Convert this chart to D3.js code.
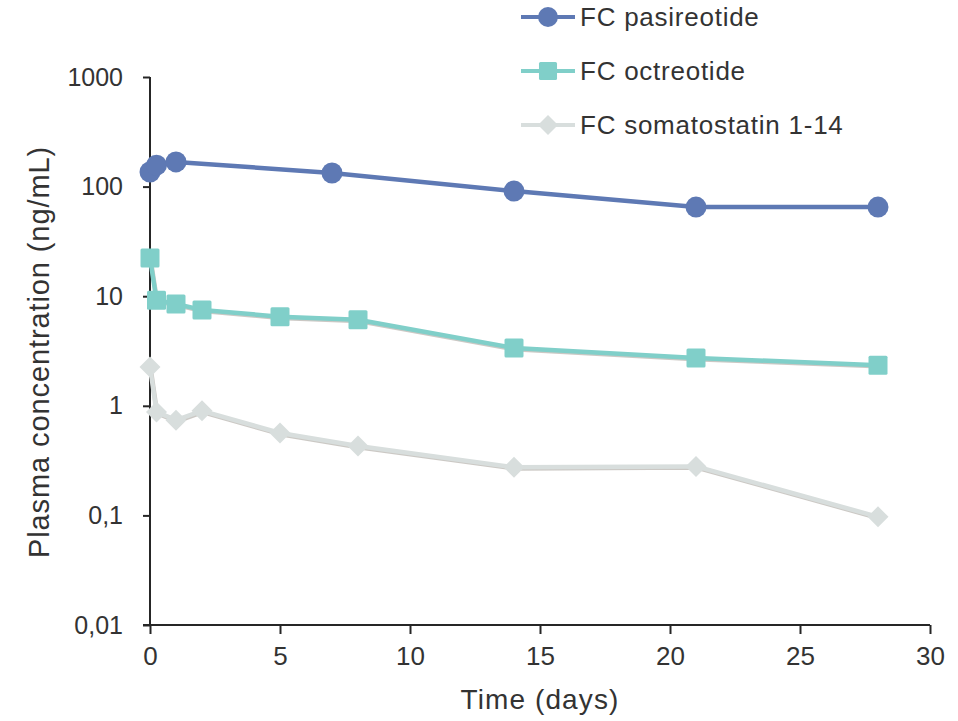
<!DOCTYPE html>
<html>
<head>
<meta charset="utf-8">
<script src="https://cdn.jsdelivr.net/npm/d3@7"></script>
<style>
  html, body { margin: 0; padding: 0; background: #fff; }
  svg { display: block; }
  text { font-family: "Liberation Sans", Arial, Helvetica, sans-serif; fill: #333; }
</style>
</head>
<body>
<svg id="chart" width="958" height="721"></svg>
<script>
// ---- Data ----
const pasireotideDays = [0, 0.25, 1, 7, 14, 21, 28];
const pasireotideValues = [136, 157, 168, 133, 91, 65, 65];

const octreotideDays = [0, 0.25, 1, 2, 5, 8, 14, 21, 28];
const octreotideValues = [22.3, 9.2, 8.5, 7.5, 6.5, 6.1, 3.37, 2.73, 2.35];

const somatostatinDays = [0, 0.25, 1, 2, 5, 8, 14, 21, 28];
const somatostatinValues = [2.26, 0.88, 0.74, 0.9, 0.565, 0.43, 0.275, 0.28, 0.097];

const seriesNames = ["FC pasireotide", "FC octreotide", "FC somatostatin 1-14"];
const xTicks = [0, 5, 10, 15, 20, 25, 30];
const yTicks = [0.01, 0.1, 1, 10, 100, 1000];
const yTickLabels = ["0,01", "0,1", "1", "10", "100", "1000"];
const xTitle = "Time (days)";
const yTitle = "Plasma concentration (ng/mL)";

// ---- Layout ----
const svg = d3.select("#chart");
const x = d3.scaleLinear().domain([0, 30]).range([150, 930]);
const y = d3.scaleLog().domain([0.01, 1000]).range([625, 77]);

const series = [
  { name: seriesNames[0], days: pasireotideDays, values: pasireotideValues, color: "#5e79b4", shape: "circle", shadow: false },
  { name: seriesNames[1], days: octreotideDays, values: octreotideValues, color: "#80cfc9", shape: "square", shadow: true },
  { name: seriesNames[2], days: somatostatinDays, values: somatostatinValues, color: "#d8dedd", shape: "diamond", shadow: true }
];

// ---- Axes ----
const axisColor = "#262626";
const yAxis = svg.append("g").attr("transform", "translate(150,0)")
  .call(d3.axisLeft(y).tickValues(yTicks).tickFormat((d, i) => yTickLabels[i]).tickSize(7).tickPadding(20));
yAxis.select(".domain").attr("stroke", axisColor).attr("stroke-width", 2).attr("d", "M0,77V625");
yAxis.selectAll(".tick line").attr("stroke", axisColor).attr("stroke-width", 2);
yAxis.selectAll(".tick text").style("font-size", "25px").attr("fill", "#333").attr("font-family", null);

const xAxis = svg.append("g").attr("transform", "translate(0,625)")
  .call(d3.axisBottom(x).tickValues(xTicks).tickFormat(d3.format("d")).tickSize(9).tickPadding(13));
xAxis.select(".domain").attr("stroke", axisColor).attr("stroke-width", 2).attr("d", "M143,0H930");
xAxis.selectAll(".tick line").attr("stroke", axisColor).attr("stroke-width", 2);
xAxis.selectAll(".tick text").style("font-size", "26px").attr("fill", "#333").attr("font-family", null);

// Axis titles
svg.append("text")
  .attr("transform", "translate(49,352) rotate(-90)")
  .attr("text-anchor", "middle")
  .style("font-size", "29px")
  .style("letter-spacing", "0.9px")
  .text(yTitle);

svg.append("text")
  .attr("x", 540).attr("y", 709)
  .attr("text-anchor", "middle")
  .style("font-size", "28px")
  .style("letter-spacing", "1.1px")
  .text(xTitle);

// ---- Markers ----
function drawMarker(g, shape, cx, cy, color, scale) {
  const s = scale || 1;
  if (shape === "circle") {
    g.append("circle").attr("cx", cx).attr("cy", cy).attr("r", 10.5 * s).attr("fill", color);
  } else if (shape === "square") {
    const h = 9.5 * s;
    g.append("rect").attr("x", cx - h).attr("y", cy - h).attr("width", 2 * h).attr("height", 2 * h)
      .attr("rx", 1.5).attr("fill", color);
  } else {
    const h = 10.5 * s;
    g.append("path").attr("d", `M${cx},${cy - h}L${cx + h},${cy}L${cx},${cy + h}L${cx - h},${cy}Z`)
      .attr("fill", color);
  }
}

// ---- Lines ----
const line = d3.line().x(d => x(d[0])).y(d => y(d[1]));
const plot = svg.append("g");
[...series].reverse().forEach(s => {
  const pts = s.days.map((d, i) => [d, s.values[i]]);
  if (s.shadow) {
    plot.append("path").datum(pts).attr("d", line)
      .attr("transform", "translate(0.6,1.2)")
      .attr("fill", "none").attr("stroke", "#a09a94").attr("stroke-opacity", 0.55)
      .attr("stroke-width", 4.5).attr("stroke-linejoin", "round");
  }
  plot.append("path").datum(pts).attr("d", line)
    .attr("fill", "none").attr("stroke", s.color).attr("stroke-width", 4.5)
    .attr("stroke-linejoin", "round");
  const mg = plot.append("g");
  pts.forEach(p => drawMarker(mg, s.shape, x(p[0]), y(p[1]), s.color));
});

// ---- Legend ----
const legendRowsY = [17, 71, 125];
series.forEach((s, i) => {
  const g = svg.append("g");
  const ly = legendRowsY[i];
  g.append("line").attr("x1", 521).attr("x2", 575).attr("y1", ly).attr("y2", ly)
    .attr("stroke", s.color).attr("stroke-width", 4);
  drawMarker(g, s.shape, 548, ly, s.color, 0.95);
  g.append("text").attr("x", 580).attr("y", ly).attr("dy", "0.36em")
    .style("font-size", "26px").style("letter-spacing", "0.75px")
    .text(s.name);
});
</script>
</body>
</html>
